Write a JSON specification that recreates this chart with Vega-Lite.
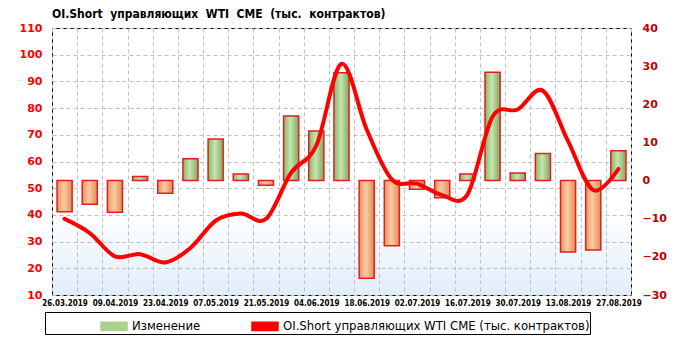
{
  "$schema": "https://vega.github.io/schema/vega-lite/v6.json",
  "width": 579,
  "height": 267,
  "autosize": {"type": "none"},
  "padding": {"left": 52, "top": 28, "right": 51, "bottom": 46},
  "background": "white",
  "title": {
    "text": "OI.Short \u00a0управляющих \u00a0WTI \u00a0CME \u00a0(тыс. \u00a0контрактов)",
    "anchor": "start",
    "frame": "group",
    "font": "DejaVu Sans Condensed",
    "fontSize": 12,
    "fontWeight": "bold",
    "color": "#000000",
    "offset": 1
  },
  "data": {
    "values": [
      {"date": "26.03.2019", "oi": 38.5, "change": -8.2},
      {"date": "02.04.2019", "oi": 33.2, "change": -6.2},
      {"date": "09.04.2019", "oi": 24.5, "change": -8.3},
      {"date": "16.04.2019", "oi": 25.3, "change": 1.1},
      {"date": "23.04.2019", "oi": 22.2, "change": -3.3},
      {"date": "30.04.2019", "oi": 27.6, "change": 5.7},
      {"date": "07.05.2019", "oi": 37.8, "change": 10.9},
      {"date": "14.05.2019", "oi": 40.5, "change": 1.7},
      {"date": "21.05.2019", "oi": 38.5, "change": -1.2},
      {"date": "28.05.2019", "oi": 55.8, "change": 16.9},
      {"date": "04.06.2019", "oi": 66.0, "change": 13.0},
      {"date": "11.06.2019", "oi": 96.6, "change": 28.3},
      {"date": "18.06.2019", "oi": 72.0, "change": -25.6},
      {"date": "25.06.2019", "oi": 53.3, "change": -17.1},
      {"date": "02.07.2019", "oi": 51.7, "change": -2.3},
      {"date": "09.07.2019", "oi": 47.4, "change": -4.5},
      {"date": "16.07.2019", "oi": 47.6, "change": 1.7},
      {"date": "23.07.2019", "oi": 76.8, "change": 28.4},
      {"date": "30.07.2019", "oi": 79.5, "change": 2.0},
      {"date": "06.08.2019", "oi": 86.5, "change": 7.1},
      {"date": "13.08.2019", "oi": 67.6, "change": -18.7},
      {"date": "20.08.2019", "oi": 49.3, "change": -18.2},
      {"date": "27.08.2019", "oi": 57.2, "change": 7.8}
    ]
  },
  "encoding": {
    "x": {
      "field": "date",
      "type": "nominal",
      "sort": null,
      "scale": {
        "type": "band",
        "paddingInner": 0,
        "paddingOuter": 0,
        "domain": ["26.03.2019", "02.04.2019", "09.04.2019", "16.04.2019", "23.04.2019", "30.04.2019", "07.05.2019", "14.05.2019", "21.05.2019", "28.05.2019", "04.06.2019", "11.06.2019", "18.06.2019", "25.06.2019", "02.07.2019", "09.07.2019", "16.07.2019", "23.07.2019", "30.07.2019", "06.08.2019", "13.08.2019", "20.08.2019", "27.08.2019"]
      },
      "axis": {
        "title": null,
        "labelAngle": 0,
        "tickBand": "extent",
        "grid": true,
        "gridColor": "#c0c0c0",
        "gridDash": [4, 3],
        "gridWidth": 1,
        "ticks": false,
        "domain": false,
        "labelPadding": 4,
        "labelFont": "DejaVu Sans Condensed",
        "labelFontSize": 8,
        "labelFontWeight": "bold",
        "labelColor": "#000000",
        "labelOverlap": false,
        "labelExpr": "indexof(['26.03.2019','09.04.2019','23.04.2019','07.05.2019','21.05.2019','04.06.2019','18.06.2019','02.07.2019','16.07.2019','30.07.2019','13.08.2019','27.08.2019'], datum.value) >= 0 ? datum.label : ''"
      }
    }
  },
  "layer": [
    {
      "encoding": {
        "y": {
          "field": "change",
          "type": "quantitative",
          "scale": {"domain": [-30, 40], "nice": false},
          "axis": {
            "orient": "right",
            "title": null,
            "values": [-30, -20, -10, 0, 10, 20, 30, 40],
            "grid": false,
            "domain": false,
            "ticks": false,
            "labelOverlap": false,
            "labelPadding": 11,
            "labelFont": "DejaVu Sans",
            "labelFontSize": 11,
            "labelFontWeight": "bold",
            "labelColor": "#c00000"
          }
        }
      },
      "layer": [
        {
          "transform": [{"filter": "datum.change >= 0"}],
          "mark": {
            "type": "bar",
            "width": {"band": 0.6},
            "stroke": "#e02020",
            "strokeWidth": 1.5,
            "fill": {
              "gradient": "linear",
              "x1": 0, "y1": 0, "x2": 1, "y2": 0,
              "stops": [
                {"offset": 0, "color": "#86b865"},
                {"offset": 0.45, "color": "#c6e4b0"},
                {"offset": 1, "color": "#7eab60"}
              ]
            }
          },
          "encoding": {
            "color": {
              "datum": "Изменение",
              "scale": {
                "domain": ["Изменение", "OI.Short управляющих WTI CME (тыс. контрактов)"],
                "range": ["#a9d18e", "#ff0000"]
              },
              "legend": {
                "orient": "none",
                "legendX": -7,
                "legendY": 284,
                "direction": "horizontal",
                "title": "\u00a0",
                "titleOrient": "left",
                "titlePadding": 55,
                "titleFontSize": 12,
                "strokeColor": "#000000",
                "padding": 0,
                "columnPadding": 48,
                "labelFont": "DejaVu Sans Condensed",
                "labelFontSize": 13,
                "labelColor": "#000000",
                "labelLimit": 500,
                "labelOffset": 4,
                "symbolSize": 676,
                "symbolType": "M-1,-0.32H1V0.32H-1Z",
                "encode": {
                  "labels": {
                    "update": {
                      "text": {"signal": "datum.value === 'Изменение' ? datum.label : datum.label + '\u2003\u2003\u2003'"}
                    }
                  },
                  "symbols": {
                    "update": {
                      "stroke": [
                        {"test": "datum.value === 'Изменение'", "value": "#e02020"},
                        {"value": "#ffffff"}
                      ],
                      "strokeWidth": [
                        {"test": "datum.value === 'Изменение'", "value": 1.5},
                        {"value": 4}
                      ],
                      "fill": [
                        {"test": "datum.value === 'Изменение'", "value": "#a9d18e"},
                        {"value": "#ff0000"}
                      ]
                    }
                  }
                }
              }
            }
          }
        },
        {
          "transform": [{"filter": "datum.change < 0"}],
          "mark": {
            "type": "bar",
            "width": {"band": 0.6},
            "stroke": "#e02020",
            "strokeWidth": 1.5,
            "fill": {
              "gradient": "linear",
              "x1": 0, "y1": 0, "x2": 1, "y2": 0,
              "stops": [
                {"offset": 0, "color": "#e8955f"},
                {"offset": 0.45, "color": "#fccaa2"},
                {"offset": 1, "color": "#df8a55"}
              ]
            }
          }
        }
      ]
    },
    {
      "mark": {"type": "line", "interpolate": "cardinal", "strokeWidth": 4, "strokeCap": "round"},
      "encoding": {
        "y": {
          "field": "oi",
          "type": "quantitative",
          "scale": {"domain": [10, 110], "nice": false},
          "axis": {
            "orient": "left",
            "title": null,
            "values": [10, 20, 30, 40, 50, 60, 70, 80, 90, 100, 110],
            "grid": true,
            "gridColor": "#c0c0c0",
            "gridDash": [4, 3],
            "domain": false,
            "ticks": false,
            "labelOverlap": false,
            "labelPadding": 10,
            "labelFont": "DejaVu Sans",
            "labelFontSize": 11,
            "labelFontWeight": "bold",
            "labelColor": "#ff0000"
          }
        },
        "color": {"datum": "OI.Short управляющих WTI CME (тыс. контрактов)"}
      }
    }
  ],
  "resolve": {"scale": {"y": "independent"}},
  "config": {
    "view": {
      "stroke": "#000000",
      "strokeWidth": 1,
      "fill": {
        "gradient": "linear",
        "x1": 0, "y1": 0, "x2": 0, "y2": 1,
        "stops": [
          {"offset": 0, "color": "#ffffff"},
          {"offset": 0.7, "color": "#ffffff"},
          {"offset": 1, "color": "#e0edf9"}
        ]
      }
    }
  }
}
